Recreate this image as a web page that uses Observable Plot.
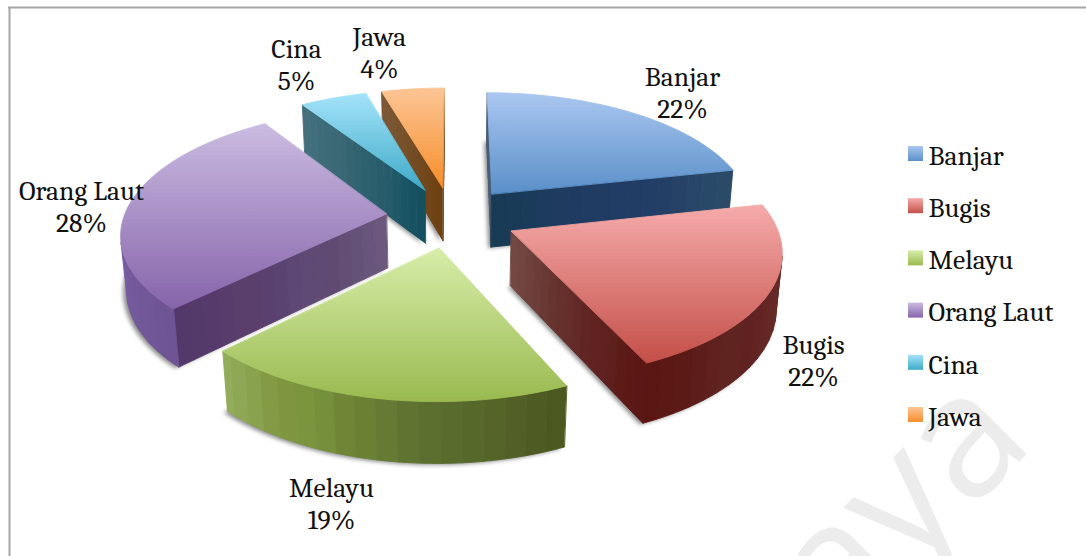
<!DOCTYPE html>
<html><head><meta charset="utf-8">
<style>html,body{margin:0;padding:0;background:#fff;overflow:hidden}</style>
<script src="https://cdn.jsdelivr.net/npm/d3@7"></script>
<script src="https://cdn.jsdelivr.net/npm/@observablehq/plot@0.6"></script>
</head><body><div id="chart"></div>
<script>
const categories = ["Banjar","Bugis","Melayu","Orang Laut","Cina","Jawa"];
const shares = [21.52,21.63,19.22,28.15,4.78,4.49];

// top-face gradient + wall shading for each category
const topLight = ["#aac7f0","#f5abaa","#d7eda9","#cbbbe1","#a4e3fa","#fcc595"];
const topDark  = ["#5a8fc9","#c44f48","#9aba50","#8664aa","#3eaac8","#f68e2c"];
const startRamp = [["#4a5f75","#4a5f75"],["#6b3a34","#6b3a34"],["#8aa44f","#8aa44f"],
  ["#6c5a7c","#66537a","#604a72","#5e4a76","#59406e","#5a3f6d","#55396b","#53386a"],
  ["#124f5e","#1a5565","#2a5d6c","#2f626f","#3b6875","#3d6b77","#46717f"],
  ["#6e400e","#714518","#734a22","#765028","#785430","#7b5737"]];
const endRamp = [["#183a54","#1a3b58","#1f3b60","#203c62","#213d66","#243f66","#284868","#2a4a68"],
  ["#754a44","#70433e","#6a3b36","#65332e","#652c2a","#602320","#5f2220","#5c1815","#5b1716"],
  ["#9ab85a","#9ab85a"],["#6a5a80","#6a5a80"],["#46717f","#46717f"],["#7b5737","#7b5737"]];
const arcRamp = [["#2a4a68","#2a4a68"],
  ["#6f4a44","#6a3d38","#683530","#632a26","#642825","#5f2220","#602420","#5c1a17","#5a1512"],
  ["#4a5820","#4f5c24","#55652a","#586b2c","#5e7030","#667d33","#708636","#7a953f","#7f973f","#8aa44f","#93ac5a"],
  ["#6e5394","#745a9c","#7a5fa5","#7e64a8","#8369ae","#8a70b3"],
  ["#46717f","#46717f"],["#7b5737","#7b5737"]];

// layout
const W = 1086, H = 556;
const cx = 453.3, cy = 216.5, R = 262.4, explode = 65.8, depth = 62.3, D = 1628, tilt = 27.63 * Math.PI / 180, shiftX = -2.2;
const paintOrder = ["Jawa","Cina","Banjar","Orang Laut","Bugis","Melayu"];
const labelAt = {"Banjar":[682,91],"Bugis":[813,359],"Melayu":[331,502],"Orang Laut":[81,205],"Cina":[296,63],"Jawa":[379,51]};
const legendX = 908, legendY = 146, legendStep = 52.2, legendBox = 15;

const project = ([X, Y, Z]) => {
  const dist = Y * Math.cos(tilt) - Z * Math.sin(tilt);
  const s = D / (D + dist);
  return [cx + s * X, cy - s * (Y * Math.sin(tilt) + Z * Math.cos(tilt))];
};
const cam = [0, -D * Math.cos(tilt), D * Math.sin(tilt)];
const arcs = d3.pie().sort(null)(shares);

const polys = [], shadows = [];
let pid = 0;
function addPoly(list, pts3, fill) {
  const id = pid++;
  for (const p of pts3) {
    const [x, y] = project(p);
    list.push({id, x, y, fill});
  }
}
const shade = ramp => d3.piecewise(d3.interpolateRgb, ramp);

paintOrder.forEach(name => {
  const i = categories.indexOf(name);
  const a0 = arcs[i].startAngle, a1 = arcs[i].endAngle, mid = (a0 + a1) / 2;
  const ox = shiftX + explode * Math.sin(mid), oy = explode * Math.cos(mid);
  const rim = (a, z) => [ox + R * Math.sin(a), oy + R * Math.cos(a), z];
  const apex = z => [ox, oy, z];
  const steps = Math.ceil((a1 - a0) * 180 / Math.PI);
  const angles = d3.range(steps + 1).map(k => a0 + (a1 - a0) * k / steps);

  // soft contact shadow: the slice footprint
  const foot = [apex(-depth), ...angles.map(a => rim(a, -depth))].map(p => [p[0] - 3, p[1] - 2, p[2]]);
  addPoly(shadows, foot, "#8a8a8a");

  const cutWall = (a, normal, ramp) => {
    const p = [ox + R * Math.sin(a) / 2, oy + R * Math.cos(a) / 2, -depth / 2];
    const dot = normal[0] * (cam[0] - p[0]) + normal[1] * (cam[1] - p[1]) + normal[2] * (cam[2] - p[2]);
    if (dot <= 0) return;
    const n = 16, col = shade(ramp);
    const pt = (t, z) => [ox + t * R * Math.sin(a), oy + t * R * Math.cos(a), z];
    for (let k = 0; k < n; k++) {
      const t0 = k / n, t1 = (k + 1) / n;
      addPoly(polys, [pt(t0, 0), pt(t1, 0), pt(t1, -depth), pt(t0, -depth)], d3.rgb(col((k + .5) / n)).formatHex());
    }
  };
  cutWall(a0, [-Math.cos(a0), Math.sin(a0), 0], startRamp[i]);
  cutWall(a1, [Math.cos(a1), -Math.sin(a1), 0], endRamp[i]);

  // outer rim, in strips
  const col = shade(arcRamp[i]);
  const stripDeg = 4;
  for (let k = 0; k < steps; k += stripDeg) {
    const sub = angles.slice(k, Math.min(k + stripDeg, steps) + 1);
    const m = sub[Math.floor(sub.length / 2)];
    const p = rim(m, -depth / 2);
    const dot = Math.sin(m) * (cam[0] - p[0]) + Math.cos(m) * (cam[1] - p[1]);
    if (dot <= 0) continue;
    addPoly(polys, [...sub.map(a => rim(a, 0)), ...sub.slice().reverse().map(a => rim(a, -depth))],
      d3.rgb(col((k + stripDeg / 2) / steps)).formatHex());
  }
  // top face
  addPoly(polys, [apex(0), ...angles.map(a => rim(a, 0))], `url(#top${i})`);
});

const labels = categories.map((c, i) => ({text: `${c}\n${Math.round(shares[i])}%`, x: labelAt[c][0], y: labelAt[c][1]}));
const legend = categories.map((c, i) => ({c, i, y: legendY + i * legendStep}));
const serif = "Cambria, 'Liberation Serif', serif";

const plot = Plot.plot({
  width: W, height: H, margin: 0,
  x: {domain: [0, W], range: [0, W], axis: null},
  y: {domain: [0, H], range: [0, H], axis: null},
  marks: [
    Plot.text(["aya"], {x: () => 1036, y: () => 444, text: d => d, textAnchor: "end", lineAnchor: "bottom", rotate: -45,
      fontFamily: "'Open Sans'", fontSize: 172, fontWeight: 500, fill: "#ececec"}),
    Plot.ruleY([7], {x1: 8, x2: W, stroke: "#a6a6a6", strokeWidth: 2}),
    Plot.ruleX([9], {y1: 7, y2: H, stroke: "#a6a6a6", strokeWidth: 2}),
    Plot.line(shadows, {x: "x", y: "y", z: "id", fill: "fill", curve: "linear-closed", imageFilter: "blur(2px)"}),
    Plot.line(polys, {x: "x", y: "y", z: "id", fill: "fill", stroke: "fill", strokeWidth: 0.9, curve: "linear-closed"}),
    Plot.text(labels, {x: "x", y: "y", text: "text", fontFamily: serif, fontSize: 27.6, lineHeight: 1.16, fill: "#111"}),
    Plot.rect(legend, {x1: () => legendX, x2: () => legendX + legendBox, y1: "y", y2: d => d.y + legendBox,
      fill: d => `url(#top${d.i})`, inset: 0}),
    Plot.text(legend, {x: () => legendX + 20, y: d => d.y + 9.5, text: "c", textAnchor: "start",
      fontFamily: serif, fontSize: 27.6, fill: "#111"})
  ]
});
const defs = d3.select(plot).insert("defs", ":first-child");
categories.forEach((c, i) => {
  const g = defs.append("linearGradient").attr("id", `top${i}`).attr("x1", 0).attr("y1", 0).attr("x2", 0).attr("y2", 1);
  g.append("stop").attr("offset", 0).attr("stop-color", topLight[i]);
  g.append("stop").attr("offset", 1).attr("stop-color", topDark[i]);
});
document.getElementById("chart").append(plot);
</script></body></html>
